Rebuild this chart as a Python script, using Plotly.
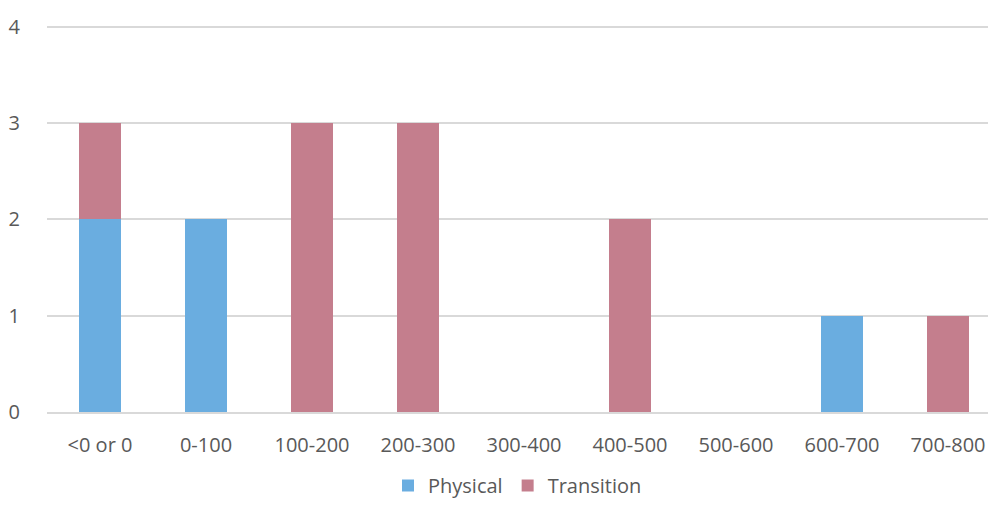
import plotly.graph_objects as go

categories = ["<0 or 0", "0-100", "100-200", "200-300", "300-400",
              "400-500", "500-600", "600-700", "700-800"]
physical = [2, 2, 0, 0, 0, 0, 0, 1, 0]
transition = [1, 0, 3, 3, 0, 2, 0, 0, 1]

FONT = "Open Sans, Liberation Sans, DejaVu Sans, sans-serif"
TEXT = "#595959"

fig = go.Figure()
fig.add_trace(go.Bar(name="Physical", x=categories, y=physical,
                     marker=dict(color="#6AADE0", line=dict(width=0)), width=0.4))
fig.add_trace(go.Bar(name="Transition", x=categories, y=transition,
                     marker=dict(color="#C47E8D", line=dict(width=0)), width=0.4))

fig.update_layout(
    barmode="stack",
    width=988, height=505,
    margin=dict(l=47, r=0, t=17.4, b=93, autoexpand=False),
    paper_bgcolor="white", plot_bgcolor="white",
    font=dict(family=FONT, size=20, color=TEXT),
    showlegend=True,
    legend=dict(orientation="h", traceorder="normal",
                x=0.5, xanchor="center", yref="container", y=0.0, yanchor="bottom",
                font=dict(size=20, color=TEXT), itemwidth=30),
    xaxis=dict(range=[-0.5, 8.377], showgrid=False, showline=True,
               linecolor="#D9D9D9", linewidth=2, ticks="outside", ticklen=14,
               tickcolor="rgba(0,0,0,0)", tickfont=dict(size=20, color=TEXT)),
    yaxis=dict(range=[0, 4.1], tickvals=[0, 1, 2, 3, 4], showgrid=True,
               gridcolor="#D9D9D9", gridwidth=1.5, zeroline=False,
               ticks="outside", ticklen=22, tickcolor="rgba(0,0,0,0)",
               tickfont=dict(size=20, color=TEXT)),
)

fig.write_html("out.html")
